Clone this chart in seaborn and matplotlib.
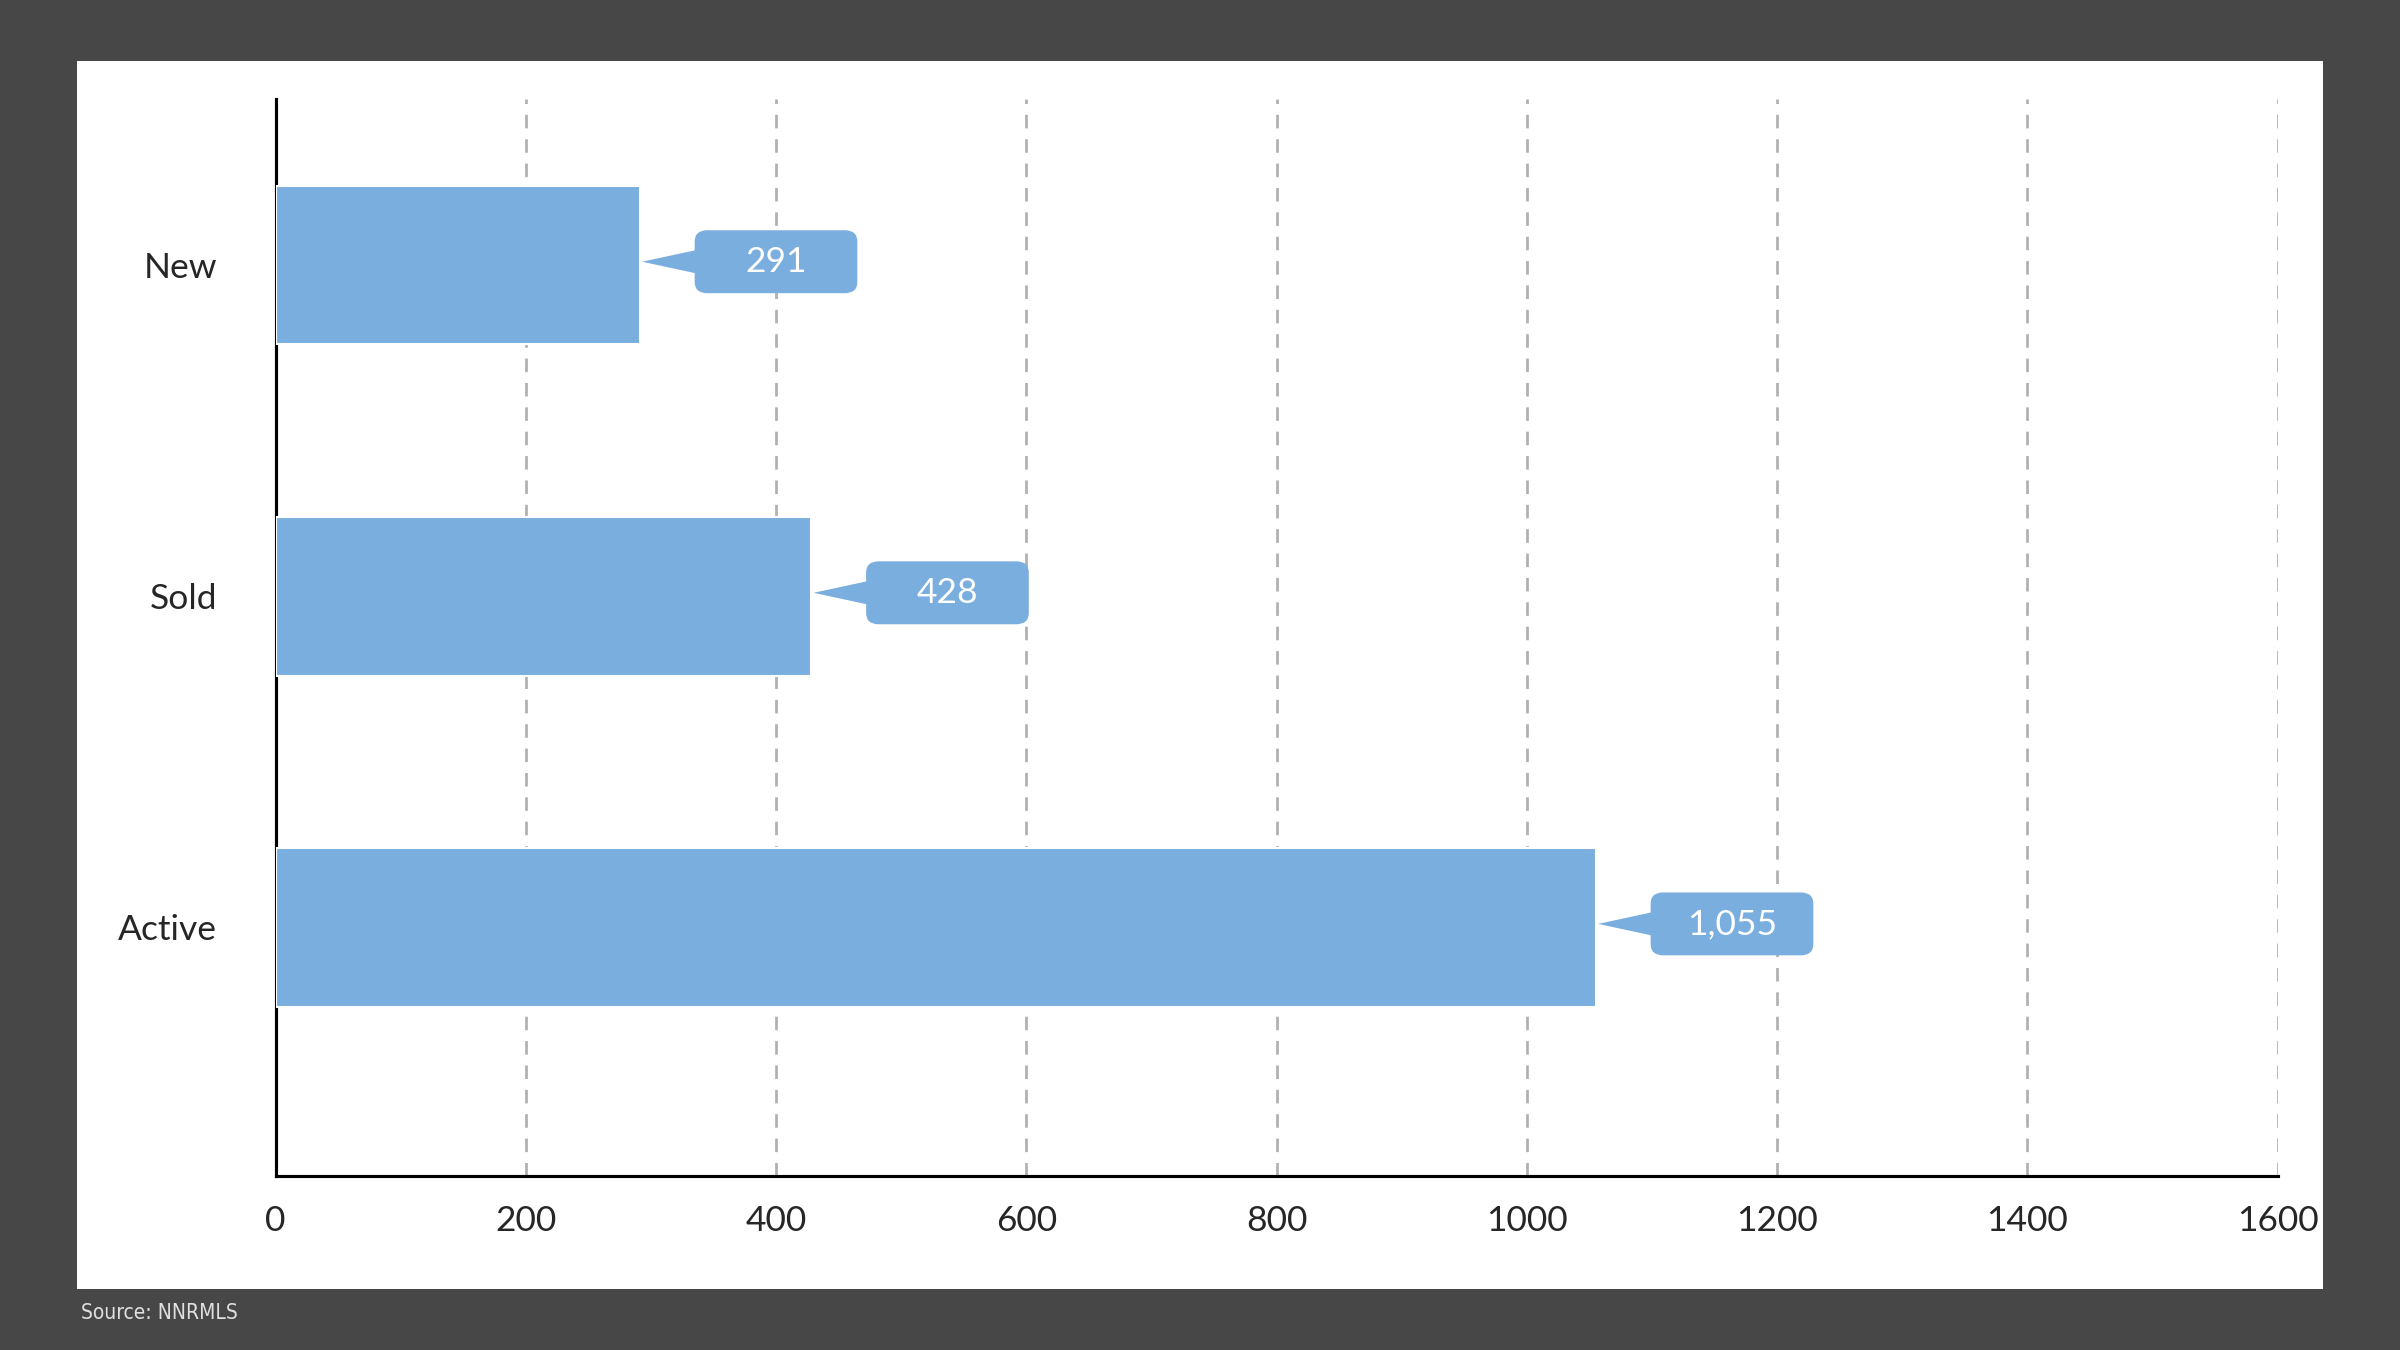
import numpy as np
import pandas as pd
import matplotlib
matplotlib.use("Agg")
import matplotlib.pyplot as plt
import seaborn as sns
from matplotlib.patches import FancyBboxPatch, Polygon

categories = ["New", "Sold", "Active"]
values = [291, 428, 1055]
labels = ["291", "428", "1,055"]
xticks = [0, 200, 400, 600, 800, 1000, 1200, 1400, 1600]

bar_color = "#7aaede"

sns.set_style("white")
plt.rcParams["font.family"] = ["Lato", "DejaVu Sans"]

df = pd.DataFrame({"cat": categories, "val": values})

fig = plt.figure(figsize=(16, 9), dpi=150, facecolor="#474747")
# white panel as a background axes
bg = fig.add_axes([50 / 1568, 1 - 842 / 882, (1518 - 50) / 1568, (842 - 40) / 882], zorder=-1)
bg.set_facecolor("white")
bg.set_xticks([])
bg.set_yticks([])
for s in bg.spines.values():
    s.set_visible(False)

ax = fig.add_axes([180 / 1568, 1 - 768 / 882, (1488 - 180) / 1568, (768 - 65) / 882], zorder=1)
ax.set_facecolor("none")

sns.barplot(data=df, x="val", y="cat", orient="h", color=bar_color, width=0.48,
            saturation=1, ax=ax, zorder=3)

ax.set_xlim(0, 1600)
ax.set_ylim(2.75, -0.5)
ax.set_xticks(xticks)
ax.set_xticklabels([str(t) for t in xticks], fontsize=17)
ax.tick_params(axis="y", labelsize=17, length=0, pad=28)
ax.tick_params(axis="x", length=0, pad=14)
ax.set_xlabel(None)
ax.set_ylabel(None)
ax.xaxis.grid(True, linestyle=(0, (5, 4)), color="#b0b0b0", linewidth=1.3, zorder=0)
ax.set_axisbelow(True)
for s in ["top", "right"]:
    ax.spines[s].set_visible(False)
for s in ["left", "bottom"]:
    ax.spines[s].set_color("black")
    ax.spines[s].set_linewidth(1.5)

# callouts
for i, (v, lab) in enumerate(zip(values, labels)):
    yc = i - 0.01
    x0 = v + 44
    w, h = 130, 0.19
    box = FancyBboxPatch((x0, yc - h / 2), w, h,
                         boxstyle="round,pad=0,rounding_size=10", mutation_aspect=0.0034,
                         facecolor=bar_color, edgecolor="none", zorder=4)
    ax.add_patch(box)
    tri = Polygon([(v + 2, yc), (x0 + 1, yc - 0.035), (x0 + 1, yc + 0.035)],
                  closed=True, facecolor=bar_color, edgecolor="none", zorder=4)
    ax.add_patch(tri)
    ax.text(x0 + w / 2, yc, lab, color="white", fontsize=17, ha="center", va="center", zorder=5)

fig.text(53 / 1568, 1 - 858 / 882, "Source: NNRMLS", color="#e0e0e0", fontsize=10,
         family=["Liberation Sans Narrow", "DejaVu Sans"], va="center", stretch="condensed")

fig.savefig("out.png", dpi=150, facecolor=fig.get_facecolor())
